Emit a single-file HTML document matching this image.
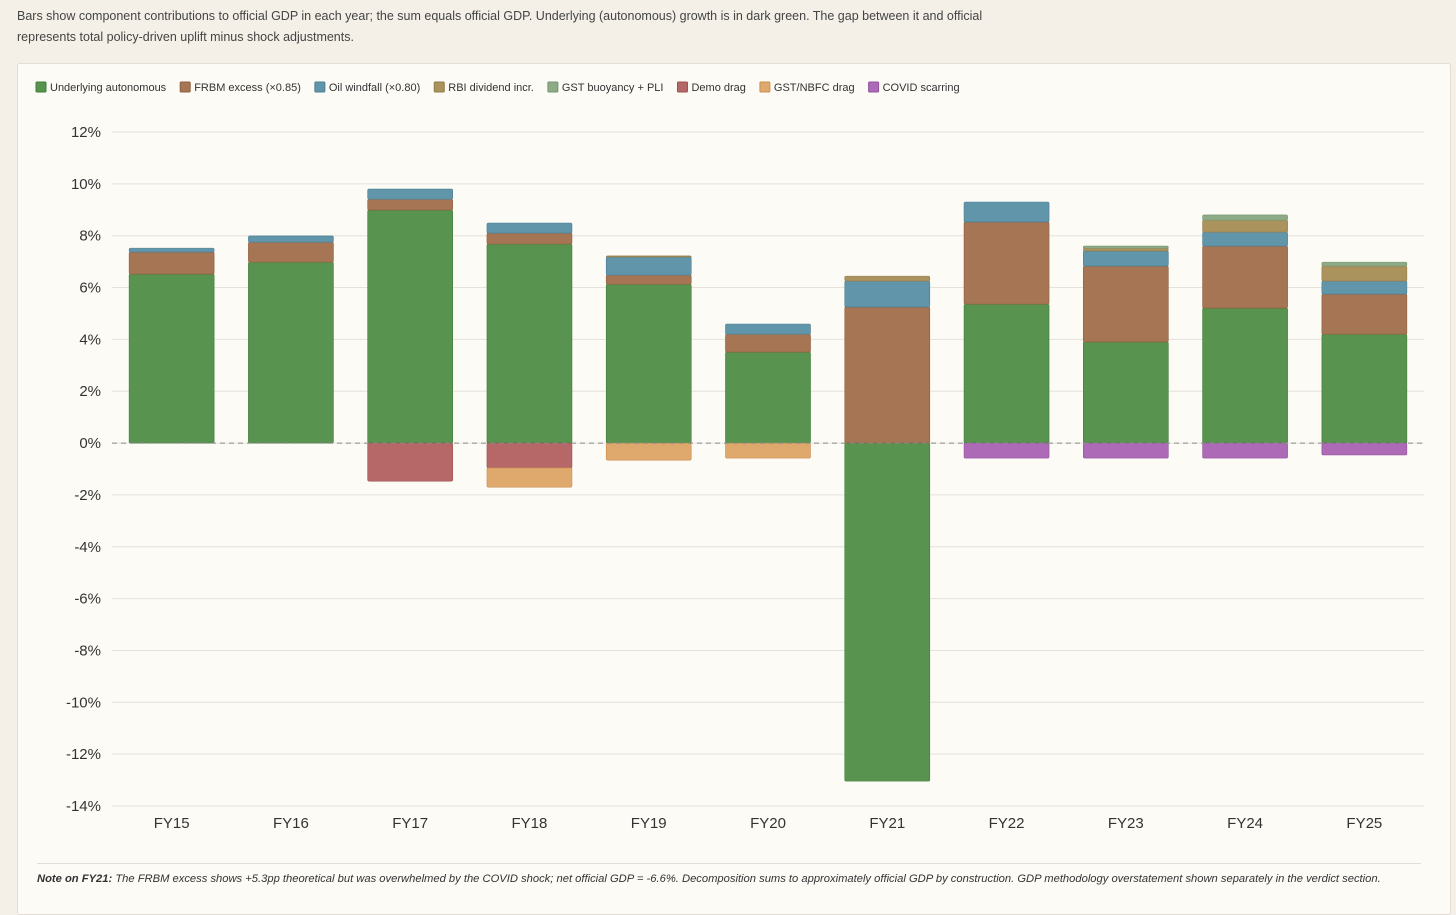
<!DOCTYPE html>
<html><head><meta charset="utf-8"><style>
body{margin:0;width:1456px;height:898px;background:#f4f0e8;font-family:"Liberation Sans",sans-serif;overflow:hidden;position:relative}
#desc{position:absolute;left:17px;top:6px;font-size:12.5px;line-height:21px;color:#444;width:1000px}
#card{position:absolute;left:17px;top:63px;width:1432px;height:850px;background:#fcfbf6;border:1px solid #e3ded4;border-radius:3px}
#note{position:absolute;left:37px;top:873px;font-size:11.2px;font-style:italic;color:#333;white-space:nowrap}
</style></head><body>
<div id="desc">Bars show component contributions to official GDP in each year; the sum equals official GDP. Underlying (autonomous) growth is in dark green. The gap between it and official<br>represents total policy-driven uplift minus shock adjustments.</div>
<div id="card"></div>
<svg id="chart" width="1456" height="898" style="position:absolute;left:0;top:0"></svg>
<div style="position:absolute;left:37px;top:863px;width:1384px;border-top:1px solid #e3ded4"></div>
<div id="note"><b>Note on FY21:</b> The FRBM excess shows +5.3pp theoretical but was overwhelmed by the COVID shock; net official GDP = -6.6%. Decomposition sums to approximately official GDP by construction. GDP methodology overstatement shown separately in the verdict section.</div>
<script>
const categories=["FY15","FY16","FY17","FY18","FY19","FY20","FY21","FY22","FY23","FY24","FY25"];
const seriesNames=["Underlying autonomous","FRBM excess (×0.85)","Oil windfall (×0.80)","RBI dividend incr.","GST buoyancy + PLI","Demo drag","GST/NBFC drag","COVID scarring"];
const underlying=[6.52,6.98,8.99,7.68,6.13,3.51,-13.04,5.36,3.9,5.21,4.2];
const frbm=[0.85,0.77,0.42,0.42,0.35,0.69,5.25,3.17,2.93,2.39,1.55];
const oil=[0.15,0.24,0.39,0.39,0.7,0.39,1.0,0.77,0.58,0.54,0.5];
const rbi=[0,0,0,0,0.04,0,0.19,0,0.11,0.46,0.58];
const gst=[0,0,0,0,0,0,0,0,0.08,0.2,0.15];
const demo=[0,0,-1.47,-0.96,0,0,0,0,0,0,0];
const gstnbfc=[0,0,0,-0.74,-0.66,-0.58,0,0,0,0,0];
const covid=[0,0,0,0,0,0,0,-0.58,-0.58,-0.58,-0.46];
const yTicks=[12,10,8,6,4,2,0,-2,-4,-6,-8,-10,-12,-14];
const colors=["#58944f","#a67554","#6195aa","#ab935e","#8cab86","#b66868","#dfa86c","#ad6ab6"];
const strokes=["#3f7d3a","#8f5e40","#4a7e94","#937b48","#749470","#9e5050","#c99054","#94529e"];
const series=[underlying,frbm,oil,rbi,gst,demo,gstnbfc,covid];
const NS="http://www.w3.org/2000/svg",svg=document.getElementById('chart');
const x0=112,x1=1424,yTop=132,yBot=806,vMax=12,vMin=-14;
const y=v=>yTop+(vMax-v)/(vMax-vMin)*(yBot-yTop);
const band=(x1-x0)/categories.length,bw=85;
const xc=i=>x0+band*(i+0.5);
function mk(t,a){const e=document.createElementNS(NS,t);for(const k in a)e.setAttribute(k,a[k]);svg.appendChild(e);return e;}
yTicks.forEach(t=>{
 const l=mk('line',{x1:x0,x2:x1,y1:y(t),y2:y(t),stroke:'#e6e2da','stroke-width':1});
 
 
 const tx=mk('text',{x:101,y:y(t)+5,'text-anchor':'end','font-size':15,fill:'#333'});
 tx.textContent=t+'%';
 
 
});
categories.forEach((c,i)=>{
 let pos=0,neg=0;
 series.forEach((s,k)=>{
  const v=s[i];if(!v)return;
  let a,b;
  if(v>0){a=pos;b=pos+v;pos=b;}else{a=neg;b=neg+v;neg=b;}
  const top=y(Math.max(a,b)),h=Math.abs(y(a)-y(b));
  const r=mk('rect',{x:xc(i)-bw/2,y:top,width:bw,height:h,fill:colors[k],stroke:strokes[k],'stroke-width':0.6,rx:1.5});
  
  
 });
 const tx=mk('text',{x:xc(i),y:828,'text-anchor':'middle','font-size':15,fill:'#333'});
 tx.textContent=c;
 
 
});
const z=mk('line',{x1:x0,x2:x1,y1:y(0),y2:y(0),stroke:'#888','stroke-width':1,'stroke-dasharray':'5,4'});


let lx=36;
seriesNames.forEach((n,k)=>{
 const r=mk('rect',{x:lx,y:82,width:10,height:10,fill:colors[k],stroke:strokes[k],rx:1});
 
 
 const t=mk('text',{x:lx+14,y:91,'font-size':11,fill:'#333'});
 t.textContent=n;
 
 
 lx+=14+t.getComputedTextLength()+14;
});
</script>
</body></html>
